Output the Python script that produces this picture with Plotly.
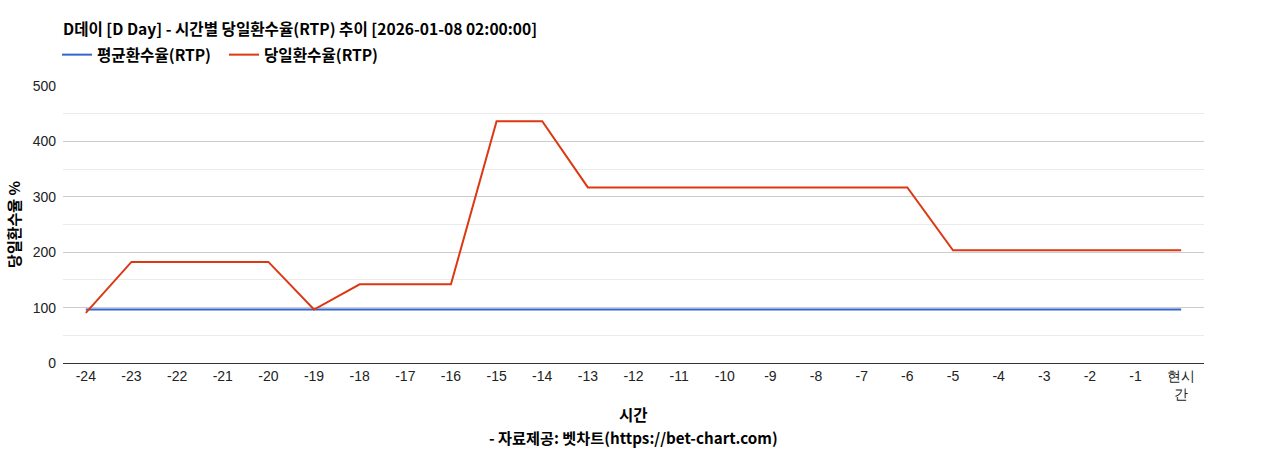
import plotly.graph_objects as go

categories = [str(i) for i in range(-24, 0)] + ["현시<br>간"]
avg_rtp = [96.5] * 25
day_rtp = [90.5, 182.5, 182.5, 182.5, 182.5, 96.5, 142, 142, 142, 436.5, 436.5, 317, 317, 317, 317,
           317, 317, 317, 317, 203.5, 203.5, 203.5, 203.5, 203.5, 203.5]

TFONT = "'Liberation Sans', Arial, sans-serif"
KFONT = "'Noto Sans CJK KR', 'Noto Sans', sans-serif"

fig = go.Figure()
fig.add_trace(go.Scatter(x=categories, y=avg_rtp, mode="lines", name="<b>평균환수율(RTP)</b>",
                         line=dict(color="#3366cc", width=2)))
fig.add_trace(go.Scatter(x=categories, y=day_rtp, mode="lines", name="<b>당일환수율(RTP)</b>",
                         line=dict(color="#dc3912", width=2)))

PH = 450 - 86 - 87

fig.update_layout(
    width=1268, height=450,
    paper_bgcolor="white", plot_bgcolor="white",
    margin=dict(l=63, r=64, t=86, b=87, autoexpand=False),
    font=dict(family=TFONT, size=14, color="#222"),
    title=dict(text="<b>D데이 [D Day] - 시간별 당일환수율(RTP) 추이 [2026-01-08 02:00:00]</b>",
               xref="container", yref="container",
               x=63/1268, xanchor="left", y=1-30/450, yanchor="middle",
               font=dict(family=KFONT, size=15.6, color="#000")),
    legend=dict(orientation="h", xref="container", yref="container",
                x=57/1268, y=1-55/450, xanchor="left", yanchor="middle",
                entrywidth=122,
                font=dict(family=KFONT, size=15.6, color="#000"), traceorder="normal"),
    showlegend=True,
    annotations=[
        dict(text="<b>시간</b>", xref="paper", yref="paper", x=0.5, y=(363-414)/PH,
             xanchor="center", yanchor="middle", showarrow=False,
             font=dict(family=KFONT, size=15.5, color="#000")),
        dict(text="<b>- 자료제공: 벳차트(https://bet-chart.com)</b>",
             xref="paper", yref="paper", x=0.5, y=(363-437)/PH,
             xanchor="center", yanchor="middle", showarrow=False,
             font=dict(family=KFONT, size=15.2, color="#000")),
    ],
)

fig.update_xaxes(type="category", range=[-0.5, 24.5], showgrid=False, showline=True,
                 linecolor="#333", linewidth=1, ticks="", automargin=False,
                 tickfont=dict(family=TFONT, size=14, color="#222"),
                 fixedrange=True)
fig.update_yaxes(range=[0, 500], dtick=100, showgrid=True, gridcolor="#cccccc", gridwidth=1,
                 minor=dict(dtick=50, showgrid=True, gridcolor="#ebebeb", gridwidth=1),
                 zeroline=False, ticks="", automargin=False, ticklabelstandoff=6,
                 tickfont=dict(family=TFONT, size=14, color="#222"),
                 title=dict(text="<b>당일환수율 %</b>", font=dict(family=KFONT, size=15, color="#000"),
                            standoff=8),
                 fixedrange=True)

fig.write_html("out.html", config={"displayModeBar": False},
               post_script="document.body.style.margin='0';")
